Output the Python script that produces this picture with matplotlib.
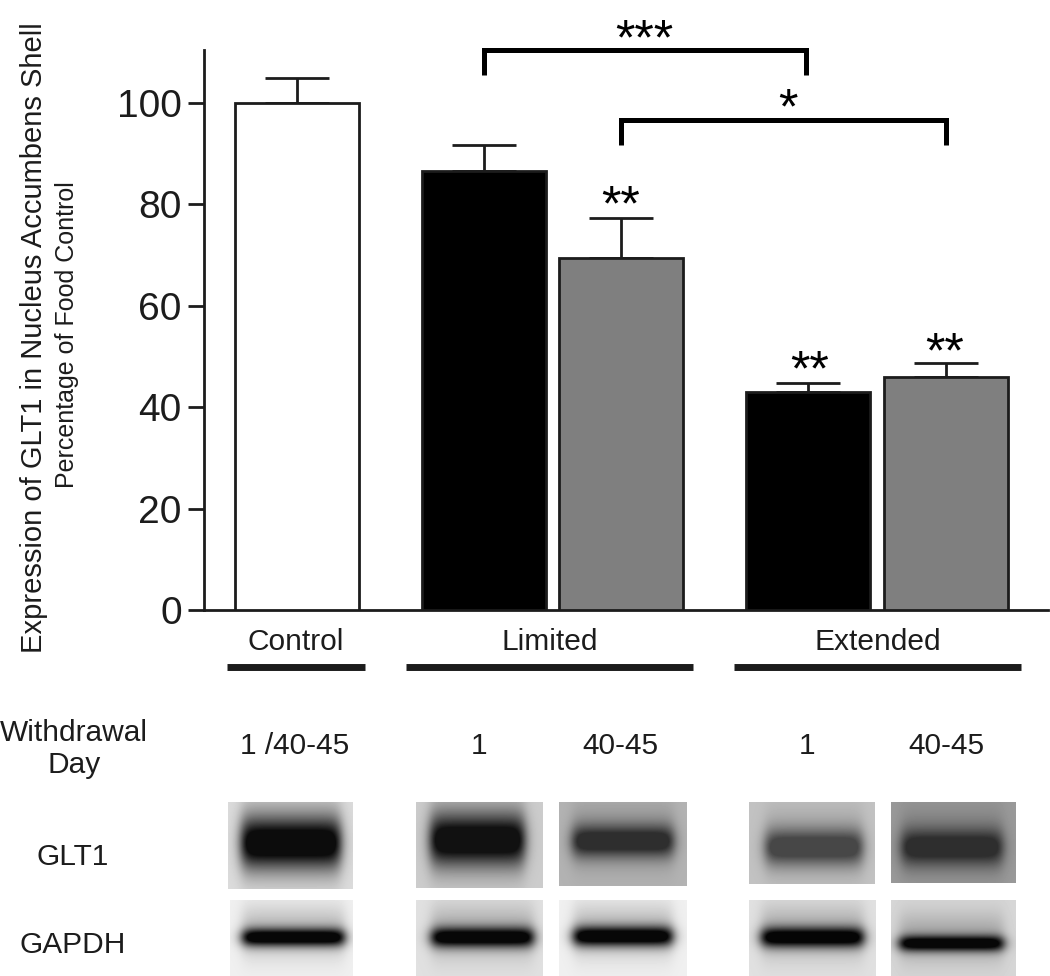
import matplotlib
matplotlib.use('Agg')
import matplotlib.pyplot as plt
import numpy as np

DARK = '#1c1c1c'
GREY = '#7f7f7f'
plt.rcParams.update({'font.family': ['Liberation Sans', 'DejaVu Sans']})

W, H = 1050, 976

# bars
groups = ['Control', 'Limited', 'Limited', 'Extended', 'Extended']
values = [100.0, 86.5, 69.3, 42.9, 46.0]
errors = [4.9, 5.2, 8.0, 1.9, 2.7]
colors = ['white', 'black', GREY, 'black', GREY]
bar_x = [297, 484, 621, 808, 946]
yticks = [0, 20, 40, 60, 80, 100]

# significance
bracket_from = [484, 621]
bracket_to = [806, 946]
bracket_y = [110.4, 96.6]
star_labels = ['***', '*', '**', '**', '**']

# lower table
group_names = ['Control', 'Limited', 'Extended']
withdrawal = ['1 /40-45', '1', '40-45', '1', '40-45']

# blots: left, right, top, bottom, background, band left, band right, band y, half height, band level
glt1 = [
    (228, 353, 802, 889, .86, 241, 340, 843, 25, .05),
    (416, 543, 802, 888, .80, 430, 524, 840, 25, .07),
    (559, 687, 802, 886, .70, 572, 673, 841, 16, .18),
    (749, 875, 802, 884, .76, 765, 862, 847, 18, .28),
    (891, 1016, 802, 883, .60, 901, 1002, 847, 18, .18),
]
gapdh = [
    (230, 353, 900, 976, .94, 242, 344, 937, 9, .03),
    (416, 543, 900, 976, .88, 431, 533, 937, 10, .03),
    (559, 687, 900, 976, .94, 573, 672, 936, 10, .03),
    (749, 876, 900, 976, .88, 761, 863, 937, 10, .02),
    (891, 1016, 900, 976, .84, 899, 1003, 943, 8, .03),
]


def blot(l, r, t, b, bg, bl, br, by, hh, level):
    xx, yy = np.meshgrid(np.arange(l, r), np.arange(t, b))
    edge_x = 1 / (1 + np.exp((bl - xx) / 3.5)) * 1 / (1 + np.exp((xx - br) / 3.5))
    core = edge_x * np.exp(-(np.abs(yy - by) / hh) ** 2)
    halo = edge_x * np.exp(-((yy - by + 6) / (hh + 16)) ** 2)
    img = bg - (bg - level) * np.clip(core + 0.25 * halo, 0, 1)
    return img


fig = plt.figure(figsize=(W / 100, H / 100), dpi=100, facecolor='white')

# overlay in pixel coords for table, text and blots
bg = fig.add_axes([0, 0, 1, 1])
bg.set_xlim(0, W)
bg.set_ylim(H, 0)
bg.axis('off')

ax = fig.add_axes([204 / W, 1 - 610 / H, (1048 - 204) / W, 560 / H])
ax.patch.set_alpha(0)
ax.set_xlim(204, 1048)
ax.set_ylim(0, 110.4)

ax.bar(bar_x, values, width=124, color=colors, edgecolor=DARK, linewidth=2, zorder=3)
ax.errorbar(bar_x, values, yerr=[np.zeros(len(errors)), errors], fmt='none',
            ecolor=DARK, elinewidth=2, capsize=23, capthick=2, zorder=2)

for s in ['top', 'right']:
    ax.spines[s].set_visible(False)
for s in ['left', 'bottom']:
    ax.spines[s].set_linewidth(2)
    ax.spines[s].set_color(DARK)
ax.set_xticks([])
ax.set_yticks(yticks)
ax.tick_params(axis='y', length=11.5, width=2, color=DARK, pad=4.5,
               labelsize=28, labelcolor=DARK)

# brackets
for x0, x1, y in zip(bracket_from, bracket_to, bracket_y):
    ax.plot([x0, x0, x1, x1], [y - 5, y, y, y - 5], color='black', lw=3.6,
            solid_joinstyle='miter', solid_capstyle='butt', clip_on=False, zorder=4)

# stars
star_x = [644, 788, 621, 810, 945]
star_y = [41, 110, 207, 372, 354]
for s, x, y in zip(star_labels, star_x, star_y):
    bg.text(x, y, s, ha='center', va='center', fontsize=36, color='black')

# axis titles
bg.text(34, 338, 'Expression of GLT1 in Nucleus Accumbens Shell', rotation=90,
        ha='center', va='center', fontsize=21, color=DARK)
bg.text(67, 335, 'Percentage of Food Control', rotation=90,
        ha='center', va='center', fontsize=18, color=DARK)

# group labels and lines
group_x = [296, 550, 878]
line_from = [227, 406, 734]
line_to = [365, 693, 1021]
for name, x, a, b in zip(group_names, group_x, line_from, line_to):
    bg.text(x, 642, name, ha='center', va='center', fontsize=21.5, color=DARK)
    bg.plot([a, b], [667, 667], color=DARK, lw=5, solid_capstyle='butt')

bg.text(74, 749, 'Withdrawal\nDay', ha='center', va='center', fontsize=21.5,
        color=DARK, linespacing=1.2)
wd_x = [295, 479, 620, 807, 946]
for s, x in zip(withdrawal, wd_x):
    bg.text(x, 746, s, ha='center', va='center', fontsize=21.5, color=DARK)
bg.text(73, 857, 'GLT1', ha='center', va='center', fontsize=21.5, color=DARK)
bg.text(73, 945, 'GAPDH', ha='center', va='center', fontsize=21.5, color=DARK)

# western blot strips
for row in glt1 + gapdh:
    l, r, t, b = row[:4]
    bg.imshow(blot(*row), extent=(l, r, b, t), cmap='gray', vmin=0, vmax=1,
              interpolation='bilinear', aspect='auto')
bg.set_xlim(0, W)
bg.set_ylim(H, 0)

plt.savefig('out.png', dpi=100, facecolor='white')
plt.close()
